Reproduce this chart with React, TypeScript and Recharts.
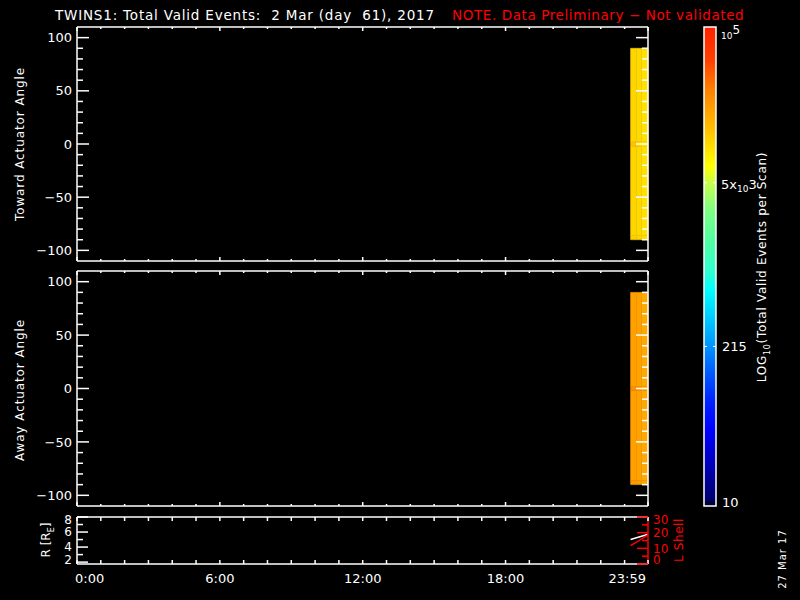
import React from "react";
import { ComposedChart, XAxis, YAxis, ReferenceArea, Line } from "recharts";

const FONT = "'DejaVu Sans', Verdana, sans-serif";
const END = 23 + 59 / 60;

// time axis (hours UT)
const hourTicks = [0, 1, 2, 3, 4, 5, 6, 7, 8, 9, 10, 11, 12, 13, 14, 15, 16, 17, 18, 19, 20, 21, 22, 23, END];
const hourMajors = [0, 6, 12, 18, END];
const hourLabels = ["0:00", "6:00", "12:00", "18:00", "23:59"];

// actuator angle axis
const angleTicks = [-100, -90, -80, -70, -60, -50, -40, -30, -20, -10, 0, 10, 20, 30, 40, 50, 60, 70, 80, 90, 100];
const angleMajors = [-100, -50, 0, 50, 100];

// scans: column edges (hours) x angle bin edges (deg)
const scanEdges = [23.25, 23.5, 23.7, END];
const angleEdges = [-90, -86, -2, 2, 90];
const towardCounts = [
  [11500, 11000, 9700],
  [11000, 10500, 9700],
  [13800, 12000, 9700],
  [11000, 10500, 9700],
];
const awayCounts = [
  [22000, 21000, 18600],
  [20400, 20000, 18600],
  [24900, 23000, 18600],
  [20400, 20000, 18600],
];

// orbit panel
const orbitTimes = [23.25, 23.5, 23.75, END];
const orbitR = [5.02, 5.25, 5.48, 5.7];
const orbitL = [11.7, 14.0, 16.3, 18.5];
const rTicks = [2, 3, 4, 5, 6, 7, 8];
const rMajors = [2, 4, 6, 8];
const lTicks = [0, 5, 10, 15, 20, 25, 30];
const lMajors = [0, 10, 20, 30];

// colour bar
const cbTicks = [10, 215, 5000, 100000];

const CMAP: [number, string][] = [
  [0, "#000030"],
  [0.01, "#000040"],
  [0.012, "#000070"],
  [0.048, "#000090"],
  [0.1, "#0000c8"],
  [0.16, "#0000ff"],
  [0.215, "#0020ff"],
  [0.284, "#0060ff"],
  [0.33, "#0090ff"],
  [0.39, "#00c8ff"],
  [0.45, "#00ffff"],
  [0.49, "#30ffd0"],
  [0.555, "#50ffa0"],
  [0.62, "#80ff80"],
  [0.67, "#c0ff50"],
  [0.71, "#ffff00"],
  [0.785, "#ffc000"],
  [0.87, "#ff8000"],
  [0.93, "#ff4000"],
  [1, "#ff2000"],
];

function hex(c: string) {
  return [1, 3, 5].map((i) => parseInt(c.slice(i, i + 2), 16));
}

function colorFor(v: number) {
  const t = (Math.log10(v) - 1) / 4;
  for (let i = 1; i < CMAP.length; i++) {
    if (t <= CMAP[i][0]) {
      const [t0, c0] = CMAP[i - 1];
      const [t1, c1] = CMAP[i];
      const f = (t - t0) / (t1 - t0);
      const a = hex(c0);
      const b = hex(c1);
      const m = a.map((x, k) => Math.round(x + (b[k] - x) * f));
      return `rgb(${m[0]},${m[1]},${m[2]})`;
    }
  }
  return CMAP[CMAP.length - 1][1];
}

function buildCells(counts: number[][]) {
  const out: { x1: number; x2: number; y1: number; y2: number; v: number }[] = [];
  counts.forEach((row, r) =>
    row.forEach((v, c) =>
      out.push({ x1: scanEdges[c], x2: scanEdges[c + 1], y1: angleEdges[r], y2: angleEdges[r + 1], v }),
    ),
  );
  return out;
}

const fmtNum = (v: number) => (v < 0 ? "\u2212" + Math.abs(v) : String(v));

function LeftTick(props: any) {
  const { x, y, payload, majors, color = "#fff", long = 12, short = 6, lo, hi, size = 13 } = props;
  const major = majors.includes(payload.value);
  const ty = lo !== undefined ? Math.min(Math.max(y, lo), hi) : y;
  return (
    <g>
      <line x1={x} y1={y} x2={x + (major ? long : short)} y2={y} stroke={color} strokeWidth={1.5} />
      {major && (
        <text x={x - 5} y={ty} dy="0.36em" textAnchor="end" fill={color} fontSize={size} fontFamily={FONT}>
          {fmtNum(payload.value)}
        </text>
      )}
    </g>
  );
}

function RightTick(props: any) {
  const { x, y, payload, majors, color = "#fff", long = 12, short = 6, labels = false, lo, hi, size = 13 } = props;
  const major = majors.includes(payload.value);
  const ty = lo !== undefined ? Math.min(Math.max(y, lo), hi) : y;
  return (
    <g>
      <line x1={x - (major ? long : short)} y1={y} x2={x} y2={y} stroke={color} strokeWidth={1.5} />
      {labels && major && (
        <text x={x + 5} y={ty} dy="0.36em" textAnchor="start" fill={color} fontSize={size} fontFamily={FONT}>
          {fmtNum(payload.value)}
        </text>
      )}
    </g>
  );
}

function BottomTick(props: any) {
  const { x, y, payload, long = 4, short = 2, labels = false } = props;
  const i = hourMajors.indexOf(payload.value);
  const major = i >= 0;
  const last = hourMajors.length - 1;
  const anchor = i === 0 ? "start" : i === last ? "end" : "middle";
  const tx = i === 0 || i === last ? x - 2 : x;
  return (
    <g>
      <line x1={x} y1={y} x2={x} y2={y - (major ? long : short)} stroke="#fff" strokeWidth={1.5} />
      {labels && major && (
        <text x={tx} y={y + 14} dy="0.36em" textAnchor={anchor} fill="#fff" fontSize={13} fontFamily={FONT}>
          {hourLabels[i]}
        </text>
      )}
    </g>
  );
}

function TopTick(props: any) {
  const { x, y, payload, long = 4, short = 2 } = props;
  const major = hourMajors.includes(payload.value);
  return <line x1={x} y1={y} x2={x} y2={y + (major ? long : short)} stroke="#fff" strokeWidth={1.5} />;
}

function CbTick(props: any) {
  const { x, y, payload } = props;
  const v = payload.value;
  const dash = v === 215 || v === 5000;
  return (
    <g fill="#fff" fontFamily={FONT}>
      {dash && <line x1={x - 12} y1={y} x2={x - 9} y2={y} stroke="#fff" strokeWidth={1} />}
      {dash && <line x1={x - 3} y1={y} x2={x} y2={y} stroke="#fff" strokeWidth={1} />}
      {v === 10 && (
        <text x={x + 6} y={y - 4} dy="0.36em" fontSize={13}>10</text>
      )}
      {v === 215 && (
        <text x={x + 6} y={y} dy="0.36em" fontSize={13}>215</text>
      )}
      {v === 5000 && (
        <text x={x + 5} y={y + 6} fontSize={13}>
          5x<tspan fontSize={9} dy={3}>10</tspan>
          <tspan fontSize={13} dy={-3}>3</tspan>
        </text>
      )}
      {v === 100000 && (
        <text x={x + 5} y={y + 12} fontSize={9}>
          10<tspan fontSize={12} dy={-5}>5</tspan>
        </text>
      )}
    </g>
  );
}

function VText({ cx, cy, color = "#fff", size = 12, spacing = 0, children }: any) {
  return (
    <div
      style={{
        position: "absolute",
        left: cx,
        top: cy,
        transform: "translate(-50%, -50%) rotate(-90deg)",
        color,
        fontSize: size,
        fontFamily: FONT,
        letterSpacing: spacing,
        whiteSpace: "pre",
        lineHeight: 1,
      }}
    >
      {children}
    </div>
  );
}

const axisLine = { stroke: "#fff", strokeWidth: 1.5 };

function AnglePanel({ top, height, mTop, mBottom, counts }: any) {
  const cells = buildCells(counts);
  const pts = cells.map((c) => ({ t: c.x1, a: c.y1 }));
  return (
    <div style={{ position: "absolute", left: 0, top, width: 800, height }}>
      <ComposedChart width={800} height={height} data={pts} margin={{ top: mTop, right: 151, bottom: mBottom, left: 0 }}>
        <XAxis
          xAxisId="b"
          dataKey="t"
          type="number"
          domain={[0, END]}
          ticks={hourTicks}
          interval={0}
          height={1}
          tickSize={0}
          tickMargin={0}
          axisLine={axisLine}
          tickLine={false}
          tick={<BottomTick />}
          allowDataOverflow
        />
        <XAxis
          xAxisId="t"
          dataKey="t"
          orientation="top"
          type="number"
          domain={[0, END]}
          ticks={hourTicks}
          interval={0}
          height={1}
          tickSize={0}
          tickMargin={0}
          axisLine={axisLine}
          tickLine={false}
          tick={<TopTick />}
          allowDataOverflow
        />
        <YAxis
          yAxisId="l"
          type="number"
          domain={[-110, 110]}
          ticks={angleTicks}
          interval={0}
          width={77}
          tickSize={0}
          tickMargin={0}
          axisLine={axisLine}
          tickLine={false}
          tick={<LeftTick majors={angleMajors} />}
          allowDataOverflow
        />
        <YAxis
          yAxisId="r"
          orientation="right"
          type="number"
          domain={[-110, 110]}
          ticks={angleTicks}
          interval={0}
          width={1}
          tickSize={0}
          tickMargin={0}
          axisLine={axisLine}
          tickLine={false}
          tick={<RightTick majors={angleMajors} />}
          allowDataOverflow
        />
        {cells.map((c, i) => (
          <ReferenceArea
            key={i}
            xAxisId="b"
            yAxisId="l"
            x1={c.x1}
            x2={c.x2}
            y1={c.y1}
            y2={c.y2}
            ifOverflow="visible"
            fill={colorFor(c.v)}
            fillOpacity={1}
            stroke={colorFor(c.v)}
            strokeWidth={0.5}
          />
        ))}
      </ComposedChart>
    </div>
  );
}

export default function App() {
  const orbit = orbitTimes.map((t, i) => ({ t, r: orbitR[i], l: orbitL[i] }));
  const cbData = cbTicks.map((v) => ({ x: 0.5, v }));
  return (
    <div
      style={{
        position: "absolute",
        left: 0,
        top: 0,
        width: 800,
        height: 600,
        background: "#000",
        overflow: "hidden",
        fontFamily: FONT,
      }}
    >
      <div style={{ position: "absolute", left: 55, top: 16, transform: "translateY(-50%)", color: "#fff", fontSize: 13.5, letterSpacing: 0.8, whiteSpace: "pre", lineHeight: 1 }}>
        {"TWINS1: Total Valid Events:  2 Mar (day  61), 2017"}
      </div>
      <div style={{ position: "absolute", left: 452, top: 16, transform: "translateY(-50%)", color: "#ff0000", fontSize: 13.5, letterSpacing: 0.6, whiteSpace: "pre", lineHeight: 1 }}>
        {"NOTE. Data Preliminary \u2212 Not validated"}
      </div>

      <AnglePanel top={0} height={270} mTop={26} mBottom={8} counts={towardCounts} />
      <AnglePanel top={270} height={250} mTop={0} mBottom={13} counts={awayCounts} />

      <div style={{ position: "absolute", left: 0, top: 510, width: 800, height: 90 }}>
        <ComposedChart width={800} height={90} data={orbit} margin={{ top: 6, right: 151, bottom: 1, left: 0 }}>
          <XAxis
            xAxisId="b"
            dataKey="t"
            type="number"
            domain={[0, END]}
            ticks={hourTicks}
            interval={0}
            height={35}
            tickSize={0}
            tickMargin={0}
            axisLine={axisLine}
            tickLine={false}
            tick={<BottomTick long={4} short={4} labels />}
            allowDataOverflow
          />
          <XAxis
            xAxisId="t"
            dataKey="t"
            orientation="top"
            type="number"
            domain={[0, END]}
            ticks={hourTicks}
            interval={0}
            height={1}
            tickSize={0}
            tickMargin={0}
            axisLine={axisLine}
            tickLine={false}
            tick={<TopTick long={4} short={4} />}
            allowDataOverflow
          />
          <YAxis
            yAxisId="r"
            type="number"
            domain={[1.75, 8]}
            ticks={rTicks}
            interval={0}
            width={77}
            tickSize={0}
            tickMargin={0}
            axisLine={axisLine}
            tickLine={false}
            tick={<LeftTick majors={rMajors} long={11} short={6} lo={10} hi={50} size={12} />}
            allowDataOverflow
          />
          <YAxis
            yAxisId="L"
            orientation="right"
            type="number"
            domain={[0, 30]}
            ticks={lTicks}
            interval={0}
            width={1}
            tickSize={0}
            tickMargin={0}
            axisLine={{ stroke: "#ff0000", strokeWidth: 1.5 }}
            tickLine={false}
            tick={<RightTick majors={lMajors} color="#ff0000" long={11} short={6} labels lo={10} hi={50} size={12} />}
            allowDataOverflow
          />
          <Line xAxisId="b" yAxisId="r" dataKey="r" stroke="#fff" strokeWidth={1.5} dot={false} isAnimationActive={false} />
          <Line xAxisId="b" yAxisId="L" dataKey="l" stroke="#ff0000" strokeWidth={1.5} dot={false} isAnimationActive={false} />
        </ComposedChart>
      </div>

      <div style={{ position: "absolute", left: 680, top: 0, width: 120, height: 520 }}>
        <ComposedChart width={120} height={520} data={cbData} margin={{ top: 27, right: 83, bottom: 14, left: 24 }}>
          <defs>
            <linearGradient id="cbGrad" x1="0" y1="1" x2="0" y2="0">
              {CMAP.map(([t, c]) => (
                <stop key={t} offset={t} stopColor={c} />
              ))}
            </linearGradient>
          </defs>
          <XAxis dataKey="x" type="number" domain={[0, 1]} hide />
          <YAxis
            yAxisId="cb"
            dataKey="v"
            orientation="right"
            scale="log"
            type="number"
            domain={[10, 100000]}
            ticks={cbTicks}
            interval={0}
            width={1}
            tickSize={0}
            tickMargin={0}
            axisLine={false}
            tickLine={false}
            tick={<CbTick />}
            allowDataOverflow
          />
          <ReferenceArea
            yAxisId="cb"
            x1={0}
            x2={1}
            y1={10}
            y2={100000}
            ifOverflow="visible"
            fill="url(#cbGrad)"
            fillOpacity={1}
            stroke="#fff"
            strokeWidth={1.5}
          />
        </ComposedChart>
      </div>

      <VText cx={20} cy={144} spacing={0.9}>Toward Actuator Angle</VText>
      <VText cx={20} cy={390} spacing={0.9}>Away Actuator Angle</VText>
      <VText cx={48} cy={540}>
        R [R<sub style={{ fontSize: 8 }}>E</sub>]
      </VText>
      <VText cx={679} cy={540} color="#ff0000" spacing={0.6}>L Shell</VText>
      <VText cx={764} cy={267} spacing={0.7}>
        LOG<sub style={{ fontSize: 8 }}>10</sub>(Total Valid Events per Scan)
      </VText>
      <VText cx={783} cy={559} size={10} spacing={1}>27 Mar 17</VText>
    </div>
  );
}
